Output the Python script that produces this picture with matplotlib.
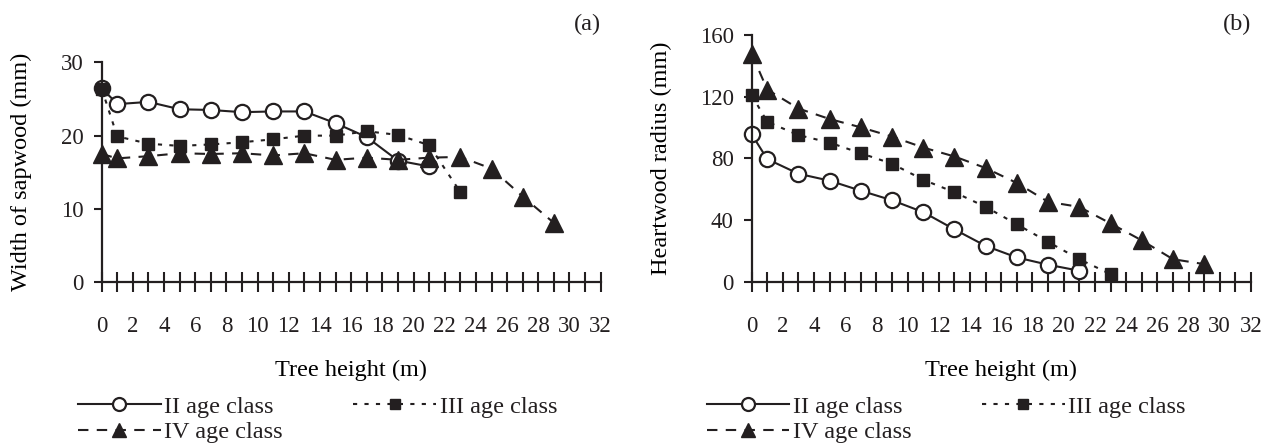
import matplotlib.pyplot as plt
import numpy as np

plt.rcParams['font.family'] = ['Liberation Serif', 'DejaVu Serif']
plt.rcParams['font.size'] = 17
ink = '#231f20'
plt.rcParams['text.color'] = ink
plt.rcParams['axes.edgecolor'] = ink
plt.rcParams['xtick.color'] = ink
plt.rcParams['ytick.color'] = ink

# tree height (m) at which samples were taken
x_ii = [0, 1, 3, 5, 7, 9, 11, 13, 15, 17, 19, 21]
x_iii = [0, 1, 3, 5, 7, 9, 11, 13, 15, 17, 19, 21, 23]
x_iv = [0, 1, 3, 5, 7, 9, 11, 13, 15, 17, 19, 21, 23, 25, 27, 29]

# (a) width of sapwood (mm)
sap_ii = [26.5, 24.3, 24.6, 23.6, 23.5, 23.2, 23.3, 23.3, 21.7, 19.8, 16.6, 15.8]
sap_iii = [26.4, 19.9, 18.9, 18.6, 18.8, 19.1, 19.5, 20.0, 20.0, 20.6, 20.1, 18.7, 12.3]
sap_iv = [17.5, 16.9, 17.2, 17.6, 17.5, 17.6, 17.3, 17.6, 16.7, 17.0, 16.7, 17.0, 17.1, 15.5, 11.7, 8.1]

# (b) heartwood radius (mm)
heart_ii = [95.6, 79.5, 70.0, 65.5, 59.0, 52.8, 45.1, 33.9, 23.2, 15.7, 11.0, 7.1]
heart_iii = [121.0, 103.7, 95.1, 90.2, 83.3, 76.5, 66.1, 58.0, 48.5, 37.2, 25.8, 14.6, 4.9]
heart_iv = [147.8, 124.6, 112.3, 105.5, 100.1, 94.1, 87.0, 81.2, 73.7, 64.0, 51.8, 48.5, 37.8, 26.8, 14.6, 11.4]

labels = ['II age class', 'III age class', 'IV age class']
x_ticks = np.arange(0, 33, 1)
x_ticklabels = [str(v) if v % 2 == 0 else '' for v in x_ticks]

fig = plt.figure(figsize=(12.71, 4.46), dpi=100)
ax_a = fig.add_axes([0.080, 0.367, 0.3926, 0.4933])
ax_b = fig.add_axes([0.5914, 0.3684, 0.3928, 0.5531])

def draw(ax, y_ii, y_iii, y_iv, ymax, ystep, ylabel, ylab_x, xlab_y):
	l2, = ax.plot(x_ii, y_ii, color=ink, lw=1.5, marker='o', ms=11, mfc='white', mec=ink, mew=1.6, label=labels[0], clip_on=False)
	l3, = ax.plot(x_iii, y_iii, color=ink, lw=1.5, ls=(0, (2, 3.5)), marker='s', ms=9, mfc=ink, mec=ink, label=labels[1], clip_on=False)
	l4, = ax.plot(x_iv, y_iv, color=ink, lw=1.5, ls=(0, (5, 4)), marker='^', ms=12.5, mfc=ink, mec=ink, label=labels[2], clip_on=False)
	ax.set_xlim(0, 32)
	ax.set_ylim(0, ymax)
	ax.set_xticks(x_ticks)
	ax.set_xticklabels(x_ticklabels, fontsize=16.5)
	ax.set_yticks(np.arange(0, ymax + 1, ystep))
	ax.tick_params(axis='x', direction='inout', length=15, width=1.5, pad=17)
	ax.tick_params(axis='y', direction='out', length=6, width=1.5, pad=7, labelsize=16.5)
	for s in ['top', 'right']:
		ax.spines[s].set_visible(False)
	for s in ['left', 'bottom']:
		ax.spines[s].set_linewidth(1.6)
	ax.set_ylabel(ylabel, fontsize=17.5)
	ax.yaxis.set_label_coords(ylab_x, 0.5)
	ax.set_xlabel('Tree height (m)', fontsize=17.5)
	ax.xaxis.set_label_coords(0.5, xlab_y)
	return l2, l3, l4

h_a = draw(ax_a, sap_ii, sap_iii, sap_iv, 30, 10, 'Width of sapwood (mm)', -0.14, -0.353)
h_b = draw(ax_b, heart_ii, heart_iii, heart_iv, 160, 40, 'Heartwood radius (mm)', -0.16, -0.317)

for h, x0 in [(h_a, 0.0614), (h_b, 0.556)]:
	fig.legend([h[0], h[2], h[1]], [labels[0], labels[2], labels[1]], ncol=2,
		loc='upper left', bbox_to_anchor=(x0, 0.113), frameon=False, fontsize=17.5,
		handlelength=3.4, handletextpad=0.15, columnspacing=2.9, labelspacing=0.15,
		borderpad=0, borderaxespad=0, numpoints=1, markerscale=0.85)

fig.text(601 / 1271, 1 - 24 / 446, '(a)', ha='right', va='center', fontsize=17.5)
fig.text(1251 / 1271, 1 - 24 / 446, '(b)', ha='right', va='center', fontsize=17.5)

fig.savefig('out.png', dpi=100)
